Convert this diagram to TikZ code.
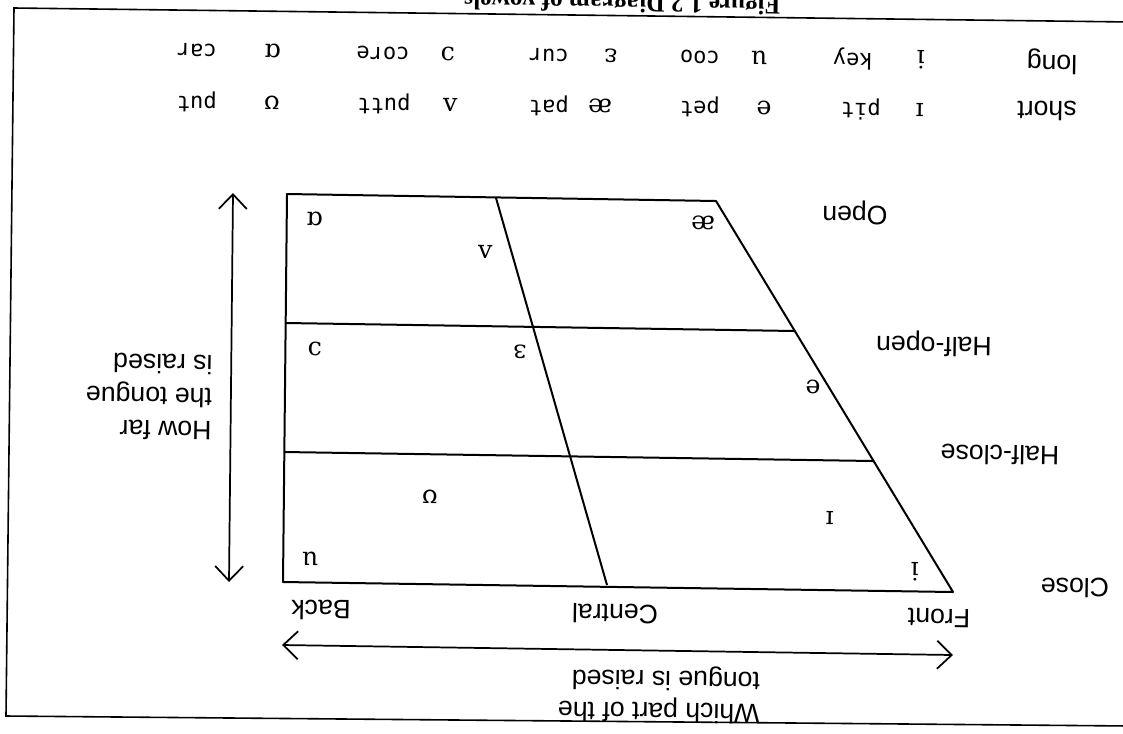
\documentclass[tikz,border=0pt]{standalone}
\usepackage{fontspec}
\usetikzlibrary{arrows.meta}
\newfontfamily\labfont{Liberation Sans}
\newfontfamily\ipafont{DejaVu Serif}
\newfontfamily\wordfont{DejaVu Sans Mono}
\newfontfamily\capfont{Liberation Serif}
\begin{document}
\begin{tikzpicture}[x=0.75pt,y=-0.75pt,
  every node/.style={inner sep=0pt, rotate=179.15},
  lab/.style={font=\labfont\fontsize{20}{25}\selectfont},
  ipa/.style={font=\ipafont\fontsize{19}{22}\selectfont},
  word/.style={font=\wordfont\fontsize{16.5}{20}\selectfont},
  capt/.style={font=\capfont\bfseries\fontsize{19}{22}\selectfont},
  chartline/.style={line width=1.5pt, line join=round},
  framestyle/.style={line width=1.2pt},
  dblarrow/.style={line width=1.3pt,
    {Straight Barb[length=11pt,width=21pt,line width=1.3pt]}-{Straight Barb[length=11pt,width=21pt,line width=1.3pt]}}]
\useasboundingbox (0,0) rectangle (1123,733);
\clip (0,0) rectangle (1123,733);
\fill[white] (0,0) rectangle (1123,733);

% frame
\coordinate (F1) at (1130,22);
\coordinate (F2) at (14,8);
\coordinate (F3) at (6,716);
\coordinate (F4) at (1130,726);
\draw[framestyle] (F1) -- (F2) -- (F3) -- (F4);

% caption (cut off)
\node[capt, anchor=base] (cap) at (622,-5) {Figure 1.2 Diagram of vowels};

% chart
\coordinate (TL) at (287,194);
\coordinate (TR) at (716,201);
\coordinate (BR) at (953,592);
\coordinate (BL) at (283,582);
\coordinate (L1a) at (286,323);
\coordinate (L1b) at (795,331);
\coordinate (L2a) at (284,452);
\coordinate (L2b) at (873,461);
\coordinate (Ca) at (496,198);
\coordinate (Cb) at (607,585);
\draw[chartline] (TL) -- (TR) -- (BR) -- (BL) -- cycle;
\draw[chartline] (L1a) -- (L1b);
\draw[chartline] (L2a) -- (L2b);
\draw[chartline] (Ca) -- (Cb);

% arrows
\coordinate (hA) at (282,645);
\coordinate (hB) at (953,655);
\coordinate (vA) at (233,193);
\coordinate (vB) at (229,582);
\draw[dblarrow] (hA) -- (hB);
\draw[dblarrow] (vA) -- (vB);

% chart symbols
\node[ipa] (sA) at (315,219) {ɑ};
\node[ipa] (sV) at (485,252) {ʌ};
\node[ipa] (sAE) at (703,223) {æ};
\node[ipa] (sO) at (315,349) {ɔ};
\node[ipa] (sER) at (520,352) {ɜ};
\node[ipa] (sE) at (813,387) {e};
\node[ipa] (sUU) at (430,497) {ʊ};
\node[ipa] (sU) at (310,559) {u};
\node[ipa] (sII) at (830,518) {ɪ};
\node[ipa] (sI) at (915,572) {i};

% chart labels
\node[lab] (lOpen) at (855,213) {Open};
\node[lab] (lHO) at (934,344) {Half-open};
\node[lab] (lHC) at (1000,455) {Half-close};
\node[lab] (lClose) at (1075,588) {Close};
\node[lab] (lFront) at (939,618) {Front};
\node[lab] (lCentral) at (615,614) {Central};
\node[lab] (lBack) at (321,610) {Back};
\node[lab, align=left] (lHow) at (149,397) {How far\\the tongue\\is raised};
\node[font=\labfont\fontsize{20}{24}\selectfont, align=left] (lWhich) at (659,694) {Which part of the\\tongue is raised};

% table: long row
\node[lab] (tLong) at (1052,62) {long};
\node[ipa] (tl1) at (921,60) {i};
\node[word] (tw1) at (853,59) {key};
\node[ipa] (tl2) at (759,58) {u};
\node[word] (tw2) at (700,57) {coo};
\node[ipa] (tl3) at (611,56) {ɛ};
\node[word] (tw3) at (549,55) {cur};
\node[ipa] (tl4) at (448,54) {ɔ};
\node[word] (tw4) at (383,53) {core};
\node[ipa] (tl5) at (273,51) {ɑ};
\node[word] (tw5) at (197,50) {car};

% table: short row
\node[lab] (tShort) at (1047,111) {short};
\node[ipa] (ts1) at (920,110) {ɪ};
\node[word] (tx1) at (861,109) {pit};
\node[ipa] (ts2) at (764,108) {e};
\node[word] (tx2) at (700,107) {pet};
\node[ipa] (ts3) at (600,106) {æ};
\node[word] (tx3) at (549,106) {pat};
\node[ipa] (ts4) at (450,105) {ʌ};
\node[word] (tx4) at (384,104) {putt};
\node[ipa] (ts5) at (272,103) {ʊ};
\node[word] (tx5) at (197,102) {put};
\end{tikzpicture}
\end{document}
